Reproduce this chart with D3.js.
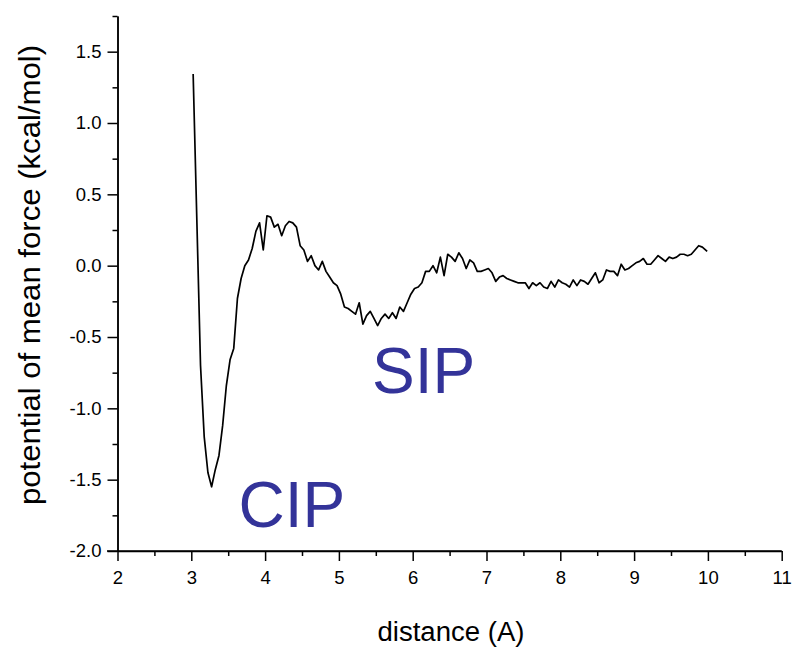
<!DOCTYPE html>
<html>
<head>
<meta charset="utf-8">
<script src="https://cdn.jsdelivr.net/npm/d3@7"></script>
<style>
  html, body { margin: 0; padding: 0; background: #fff; }
  svg { display: block; }
  text { font-family: "Liberation Sans", Arial, sans-serif; }
</style>
</head>
<body>
<svg id="chart" width="794" height="649"></svg>
<script>
// ---- data ----
const distance = [
  3.025,3.075,3.125,3.175,3.225,3.275,3.325,3.375,3.425,3.475,
  3.525,3.575,3.625,3.675,3.725,3.775,3.825,3.875,3.925,3.975,
  4.025,4.075,4.125,4.175,4.225,4.275,4.325,4.375,4.425,4.475,
  4.525,4.575,4.625,4.675,4.725,4.775,4.825,4.875,4.925,4.975,
  5.025,5.075,5.125,5.175,5.225,5.275,5.325,5.375,5.425,5.475,
  5.525,5.575,5.625,5.675,5.725,5.775,5.825,5.875,5.925,5.975,
  6.025,6.075,6.125,6.175,6.225,6.275,6.325,6.375,6.425,6.475,
  6.525,6.575,6.625,6.675,6.725,6.775,6.825,6.875,6.925,6.975,
  7.025,7.075,7.125,7.175,7.225,7.275,7.325,7.375,7.425,7.475,
  7.525,7.575,7.625,7.675,7.725,7.775,7.825,7.875,7.925,7.975,
  8.025,8.075,8.125,8.175,8.225,8.275,8.325,8.375,8.425,8.475,
  8.525,8.575,8.625,8.675,8.725,8.775,8.825,8.875,8.925,8.975,
  9.025,9.075,9.125,9.175,9.225,9.275,9.325,9.375,9.425,9.475,
  9.525,9.575,9.625,9.675,9.725,9.775,9.825,9.875,9.925,9.990
];
const pmf = [
  1.343,0.32,-0.70,-1.20,-1.45,-1.55,-1.43,-1.33,-1.12,-0.84,
  -0.66,-0.58,-0.23,-0.09,0.00,0.04,0.12,0.24,0.30,0.11,
  0.35,0.34,0.27,0.29,0.21,0.28,0.31,0.30,0.27,0.14,
  0.11,0.03,0.07,0.00,-0.03,0.03,-0.04,-0.08,-0.12,-0.14,
  -0.20,-0.29,-0.30,-0.32,-0.34,-0.26,-0.41,-0.35,-0.32,-0.37,
  -0.42,-0.37,-0.34,-0.37,-0.33,-0.37,-0.29,-0.32,-0.26,-0.20,
  -0.16,-0.15,-0.12,-0.04,-0.04,0.00,-0.05,0.06,-0.07,0.08,
  0.06,0.03,0.09,0.05,-0.02,0.04,0.02,-0.04,-0.04,-0.03,
  -0.02,-0.05,-0.11,-0.08,-0.07,-0.09,-0.10,-0.11,-0.12,-0.12,
  -0.12,-0.16,-0.12,-0.14,-0.12,-0.15,-0.16,-0.11,-0.15,-0.10,
  -0.12,-0.13,-0.15,-0.10,-0.14,-0.10,-0.11,-0.13,-0.09,-0.05,
  -0.12,-0.10,-0.03,-0.04,-0.04,-0.07,0.01,-0.03,-0.02,0.00,
  0.02,0.03,0.05,0.01,0.01,0.04,0.07,0.05,0.03,0.06,
  0.05,0.06,0.08,0.08,0.07,0.08,0.11,0.14,0.13,0.10
];
const xTicks = [2,3,4,5,6,7,8,9,10,11];
const xMinorTicks = [2.5,3.5,4.5,5.5,6.5,7.5,8.5,9.5,10.5];
const yTicks = [-2.0,-1.5,-1.0,-0.5,0.0,0.5,1.0,1.5];
const yMinorTicks = [-1.75,-1.25,-0.75,-0.25,0.25,0.75,1.25,1.75];
const annotations = [
  { label: "CIP", x: 3.64, y: -1.83 },
  { label: "SIP", x: 5.45, y: -0.89 }
];
const xTitle = "distance (A)";
const yTitle = "potential of mean force (kcal/mol)";

// ---- chart ----
const svg = d3.select("#chart");
const x = d3.scaleLinear().domain([2, 11]).range([117.5, 781.7]);
const y = d3.scaleLinear().domain([-2, 1.75]).range([551, 16]);

const fmt = d => d.toFixed(1);

// x axis
const gx = svg.append("g").attr("transform", "translate(0,551)");
gx.call(d3.axisBottom(x).tickValues(xTicks).tickFormat(d => String(d)).tickSize(10).tickSizeOuter(0).tickPadding(10));
gx.append("g").call(d3.axisBottom(x).tickValues(xMinorTicks).tickFormat("").tickSize(5).tickSizeOuter(0));
gx.selectAll(".domain").attr("stroke", "#000").attr("stroke-width", 1.5);
gx.select(".domain").attr("d", "M107,0H781.7");

// y axis
const gy = svg.append("g").attr("transform", "translate(117.5,0)");
gy.call(d3.axisLeft(y).tickValues(yTicks).tickFormat(fmt).tickSize(10).tickSizeOuter(0).tickPadding(6));
gy.append("g").call(d3.axisLeft(y).tickValues(yMinorTicks).tickFormat("").tickSize(5).tickSizeOuter(0));
gy.selectAll(".domain").attr("stroke", "#000").attr("stroke-width", 1.5);

svg.selectAll(".tick line").attr("stroke", "#000").attr("stroke-width", 1.5);
svg.selectAll(".tick text")
  .attr("font-family", "'Liberation Sans', Arial, sans-serif")
  .style("font-size", "18.5px").attr("fill", "#000");

// axis titles
svg.append("text")
  .attr("x", 451).attr("y", 641)
  .attr("text-anchor", "middle")
  .style("font-size", "27px")
  .attr("textLength", 147)
  .attr("lengthAdjust", "spacingAndGlyphs")
  .text(xTitle);
svg.append("text")
  .attr("transform", "translate(40,275) rotate(-90)")
  .attr("text-anchor", "middle")
  .style("font-size", "29px")
  .attr("textLength", 460)
  .attr("lengthAdjust", "spacingAndGlyphs")
  .text(yTitle);

// line
const pts = distance.map((d, i) => [d, pmf[i]]);
svg.append("path")
  .datum(pts)
  .attr("fill", "none")
  .attr("stroke", "#000")
  .attr("stroke-width", 1.7)
  .attr("stroke-linejoin", "round")
  .attr("d", d3.line().x(d => x(d[0])).y(d => y(d[1])));

// annotations
svg.selectAll(".anno")
  .data(annotations)
  .enter().append("text")
  .attr("class", "anno")
  .attr("x", d => x(d.x))
  .attr("y", d => y(d.y))
  .style("font-size", "64px")
  .attr("fill", "#333399")
  .text(d => d.label);
</script>
</body>
</html>
